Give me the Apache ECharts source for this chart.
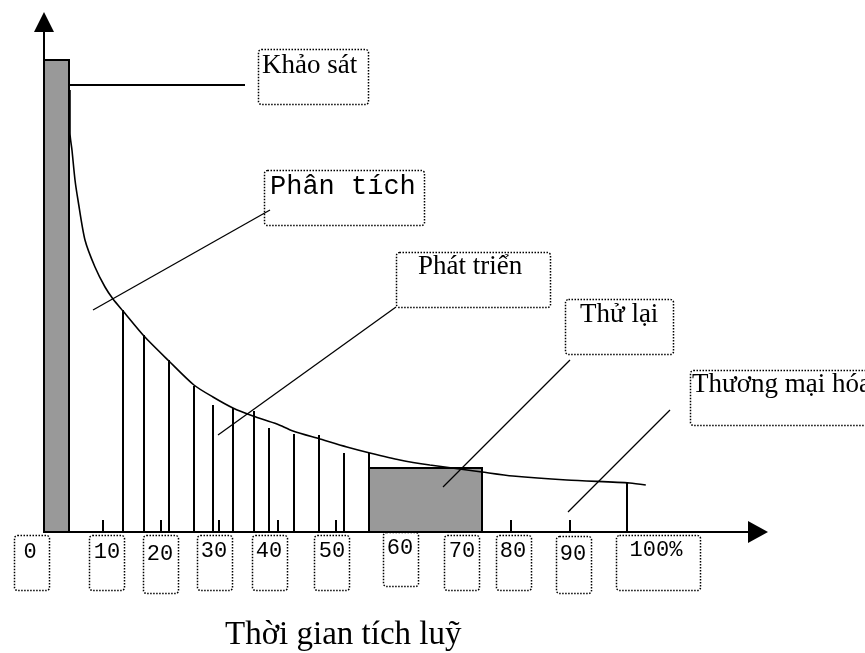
<!DOCTYPE html>
<html>
<head>
<meta charset="utf-8">
<script src="https://cdn.jsdelivr.net/npm/echarts@6/dist/echarts.min.js"></script>
<style>
html,body{margin:0;padding:0;background:#fff;}
#chart{width:865px;height:653px;}
</style>
</head>
<body>
<div id="chart"></div>
<script>
// ---------- data ----------
const stageNames = ['Khảo sát', 'Phân tích', 'Phát triển', 'Thử lại', 'Thương mại hóa'];
const tickLabels = ['0', '10', '20', '30', '40', '50', '60', '70', '80', '90', '100%'];
const axisTitle = 'Thời gian tích luỹ';
const tickValues = [0, 10, 20, 30, 40, 50, 60, 70, 80, 90];

// cumulative-time curve (x = % of time, y = relative effort)
const curveX = [4.45, 4.45, 4.79, 5.31, 5.82, 7.02, 8.73, 10.45, 11.82, 13.53, 17.12, 21.40, 25.68, 28.94, 32.36, 35.79, 39.90, 42.64, 47.26, 51.88, 55.82, 60.96, 66.10, 75.00, 80.31, 89.55, 100.34, 103.08];
const curveY = [88.4, 79.8, 76.4, 70.4, 66.4, 58.4, 53.0, 49.0, 46.6, 44.2, 39.2, 34.2, 29.4, 27.0, 24.8, 23.2, 21.6, 20.2, 18.6, 17.0, 15.8, 14.4, 13.4, 12.0, 11.2, 10.4, 9.8, 9.4];

// vertical hatch lines under the curve
const stemX = [13.53, 17.12, 21.40, 25.68, 28.94, 32.36, 35.96, 38.53, 42.81, 47.09, 51.37, 55.65, 99.83];
const stemY = [44.4, 39.4, 34.4, 29.2, 25.4, 24.8, 24.2, 20.8, 19.6, 19.4, 15.8, 15.8, 9.8];

// grey blocks (Khảo sát, Thử lại)
const blockStart = [0, 55.65];
const blockEnd = [4.28, 75.0];
const blockTop = [94.4, 12.8];

// ---------- layout (pixels) ----------
const SERIF = '"Liberation Serif", "Times New Roman", serif';
const MONO = '"Liberation Mono", "Courier New", monospace';
const stageLayout = [
  { box: [258, 49, 110, 55], tx: 262, ty: 66, font: '27px ' + SERIF, line: [69, 85, 245, 85], lw: 2 },
  { box: [264, 170, 160, 55], tx: 270, ty: 187, font: '27px ' + MONO, line: [93, 310, 270, 210], lw: 1.3 },
  { box: [396, 252, 154, 55], tx: 418, ty: 267, font: '27px ' + SERIF, line: [218, 435, 396, 307], lw: 1.3 },
  { box: [565, 299, 108, 55], tx: 580, ty: 315, font: '27px ' + SERIF, line: [443, 487, 570, 360], lw: 1.3 },
  { box: [690, 370, 200, 55], tx: 692, ty: 385, font: '27px ' + SERIF, line: [568, 512, 670, 410], lw: 1.3 }
];
const tickLayout = [
  { box: [14, 535, 35, 55], tx: 30, ty: 552 },
  { box: [89, 535, 35, 55], tx: 107, ty: 552 },
  { box: [143, 535, 35, 58], tx: 160, ty: 554 },
  { box: [197, 535, 35, 55], tx: 214, ty: 551 },
  { box: [252, 535, 35, 55], tx: 269, ty: 551 },
  { box: [314, 535, 35, 55], tx: 332, ty: 551 },
  { box: [383, 532, 35, 54], tx: 400, ty: 548 },
  { box: [444, 535, 35, 55], tx: 462, ty: 551 },
  { box: [496, 535, 35, 55], tx: 513, ty: 551 },
  { box: [556, 536, 35, 57], tx: 573, ty: 554 },
  { box: [616, 535, 84, 55], tx: 656, ty: 550 }
];

function dottedBox(b) {
  return {
    type: 'rect', z: 50,
    shape: { x: b[0] + 0.5, y: b[1] + 0.5, width: b[2], height: b[3], r: 3 },
    style: { fill: null, stroke: '#000', lineWidth: 1.5, lineDash: [1.5, 1.5] },
    silent: true
  };
}

const graphics = [];
stageNames.forEach((name, i) => {
  const L = stageLayout[i];
  graphics.push(dottedBox(L.box));
  graphics.push({
    type: 'text', z: 51,
    style: { text: name, x: L.tx, y: L.ty, font: L.font, fill: '#000', align: 'left', verticalAlign: 'middle' }
  });
  graphics.push({
    type: 'line', z: 49,
    shape: { x1: L.line[0], y1: L.line[1], x2: L.line[2], y2: L.line[3] },
    style: { stroke: '#000', lineWidth: L.lw }
  });
});
tickLabels.forEach((t, i) => {
  const L = tickLayout[i];
  graphics.push(dottedBox(L.box));
  graphics.push({
    type: 'text', z: 51,
    style: { text: t, x: L.tx, y: L.ty, font: '22px ' + MONO, fill: '#000', align: 'center', verticalAlign: 'middle' }
  });
});
graphics.push({
  type: 'text', z: 51,
  style: { text: axisTitle, x: 225, y: 635, font: '33px ' + SERIF, fill: '#000', align: 'left', verticalAlign: 'middle' }
});

const curveData = curveX.map((x, i) => [x, curveY[i]]);
const stemData = stemX.map((x, i) => [x, stemY[i]]);
const blockData = blockStart.map((s, i) => [s, blockEnd[i], blockTop[i]]);

const chart = echarts.init(document.getElementById('chart'), null, { renderer: 'canvas' });
chart.setOption({
  backgroundColor: '#fff',
  animation: false,
  grid: { left: 44, right: 107, top: 22, bottom: 121, containLabel: false, outerBoundsMode: 'none' },
  xAxis: {
    type: 'value', min: 0, max: 122.3,
    axisLine: { show: true, onZero: false, symbol: ['none', 'triangle'], symbolSize: [22, 20], lineStyle: { color: '#000', width: 2 } },
    axisTick: { show: true, inside: true, length: 12, customValues: tickValues, lineStyle: { color: '#000', width: 2 } },
    axisLabel: { show: false },
    splitLine: { show: false }
  },
  yAxis: {
    type: 'value', min: 0, max: 102,
    axisLine: { show: true, onZero: false, symbol: ['none', 'triangle'], symbolSize: [20, 20], lineStyle: { color: '#000', width: 2 } },
    axisTick: { show: false },
    axisLabel: { show: false },
    splitLine: { show: false }
  },
  graphic: graphics,
  series: [
    {
      name: 'stems', type: 'custom', z: 3,
      data: stemData,
      encode: { x: 0, y: 1 },
      renderItem: (params, api) => {
        const p0 = api.coord([api.value(0), 0]);
        const p1 = api.coord([api.value(0), api.value(1)]);
        const x = Math.round(p0[0]);
        return { type: 'line', shape: { x1: x, y1: p0[1], x2: x, y2: p1[1] }, style: { stroke: '#000', lineWidth: 2 } };
      }
    },
    {
      name: 'blocks', type: 'custom', z: 4,
      data: blockData,
      encode: { x: [0, 1], y: 2 },
      renderItem: (params, api) => {
        const a = api.coord([api.value(0), 0]);
        const b = api.coord([api.value(1), api.value(2)]);
        return {
          type: 'rect',
          shape: { x: Math.round(a[0]), y: Math.round(b[1]), width: Math.round(b[0] - a[0]), height: Math.round(a[1] - b[1]) },
          style: { fill: '#999999', stroke: '#000', lineWidth: 2 }
        };
      }
    },
    {
      name: 'curve', type: 'line', z: 5,
      data: curveData,
      showSymbol: false, symbol: 'none',
      smooth: 0.25,
      lineStyle: { color: '#000', width: 1.6 },
      clip: false
    }
  ]
});
</script>
</body>
</html>
